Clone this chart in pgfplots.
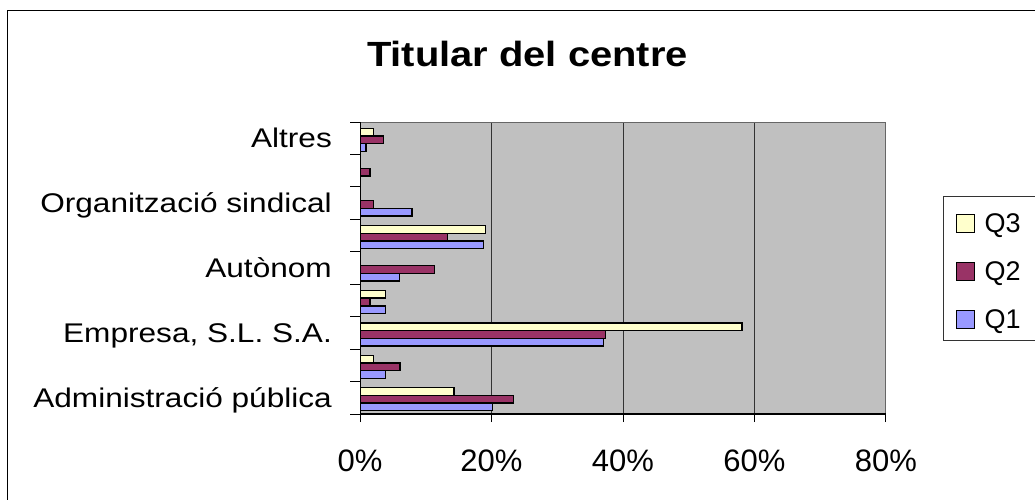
\documentclass[border=0pt]{standalone}
\usepackage{fontspec}
\setmainfont{Liberation Sans}
\usepackage{graphicx}
\usepackage{pgfplots}
\pgfplotsset{compat=1.18}

\definecolor{qone}{RGB}{153,153,255}
\definecolor{qtwo}{RGB}{153,51,102}
\definecolor{qthree}{RGB}{255,255,204}
\definecolor{plotbg}{RGB}{192,192,192}

\newcommand{\wide}[1]{\scalebox{1.17}[1]{#1}}

\pgfplotsset{
  sqlegend/.style={legend image code/.code={
    \draw[##1, draw=black, line width=1pt] (0pt,-9pt) rectangle (18pt,9pt);}},
}

\begin{document}
\begin{tikzpicture}
\useasboundingbox (0pt,0pt) rectangle (1035pt,-500pt);
\clip (0pt,0pt) rectangle (1035pt,-500pt);
\begin{axis}[
  at={(360pt,-414pt)}, anchor=south west,
  scale only axis, width=526pt, height=292pt,
  xbar, bar width=7.6pt,
  xmin=0, xmax=80, ymin=0.5, ymax=9.5,
  axis background/.style={fill=plotbg},
  axis line style={draw=black!60, line width=1pt},
  xtick={0,20,40,60,80},
  xticklabels={0\%,20\%,40\%,60\%,80\%},
  xmajorgrids, major grid style={draw=black!80, line width=1pt},
  ytick={1,...,9},
  yticklabels={\wide{Administració pública},,\wide{Empresa, S.L. S.A.},,\wide{Autònom},,\wide{Organització sindical},,\wide{Altres}},
  minor ytick={0.5,1.5,...,9.5},
  xtick pos=bottom, ytick pos=left,
  tick align=outside, major tick length=8pt, minor tick length=10pt,
  every major y tick/.style={draw=none},
  tick style={black, line width=1pt},
  xticklabel style={font=\fontsize{31}{35}\selectfont, anchor=north, inner sep=0pt,
    text height=22pt, text depth=0pt, yshift=-27pt},
  yticklabel style={font=\fontsize{27}{30}\selectfont, anchor=east, inner sep=0pt,
    text height=19.5pt, text depth=0pt, xshift=-20pt},
  legend style={draw=none, fill=none, at={(1.1321,0.6866)}, anchor=north west,
    inner sep=0pt, row sep=29pt, font=\fontsize{27}{29}\selectfont,
    nodes={inner sep=0pt, text height=19pt, text depth=0pt},
    /tikz/every odd column/.append style={column sep=10pt}},
  legend cell align=left,
]
\addplot[fill=qthree, draw=black, line width=1.3pt, bar shift=6.2pt, sqlegend]
  coordinates {(14.3,1) (2.0,2) (58.1,3) (3.9,4) (19.1,6) (2.0,9)};
\addplot[fill=qtwo, draw=black, line width=1.3pt, bar shift=-1.5pt, sqlegend]
  coordinates {(23.3,1) (6.1,2) (37.3,3) (1.5,4) (11.3,5) (13.3,6) (2.1,7) (1.5,8) (3.6,9)};
\addplot[fill=qone, draw=black, line width=1.3pt, bar shift=-9.2pt, sqlegend]
  coordinates {(20.2,1) (3.9,2) (37.0,3) (3.9,4) (6.0,5) (18.8,6) (7.9,7) (0.9,9)};
\legend{Q3,Q2,Q1}
\draw[black, line width=1.3pt] (rel axis cs:0,1) -- (rel axis cs:0,0) -- (rel axis cs:1,0);
\end{axis}
% chart frame and legend box, both run past the cropped edges
\draw[black, line width=1.3pt] (7.5pt,-600pt) |- (1100pt,-10.5pt);
\draw[black!80, line width=1pt] (1100pt,-196pt) -| (943pt,-340pt) -- (1100pt,-340pt);
\node[anchor=base, font=\fontsize{35}{40}\selectfont\bfseries] at (527.5pt,-66.7pt)
  {\scalebox{1.14}[1]{Titular del centre}};
\end{tikzpicture}
\end{document}
